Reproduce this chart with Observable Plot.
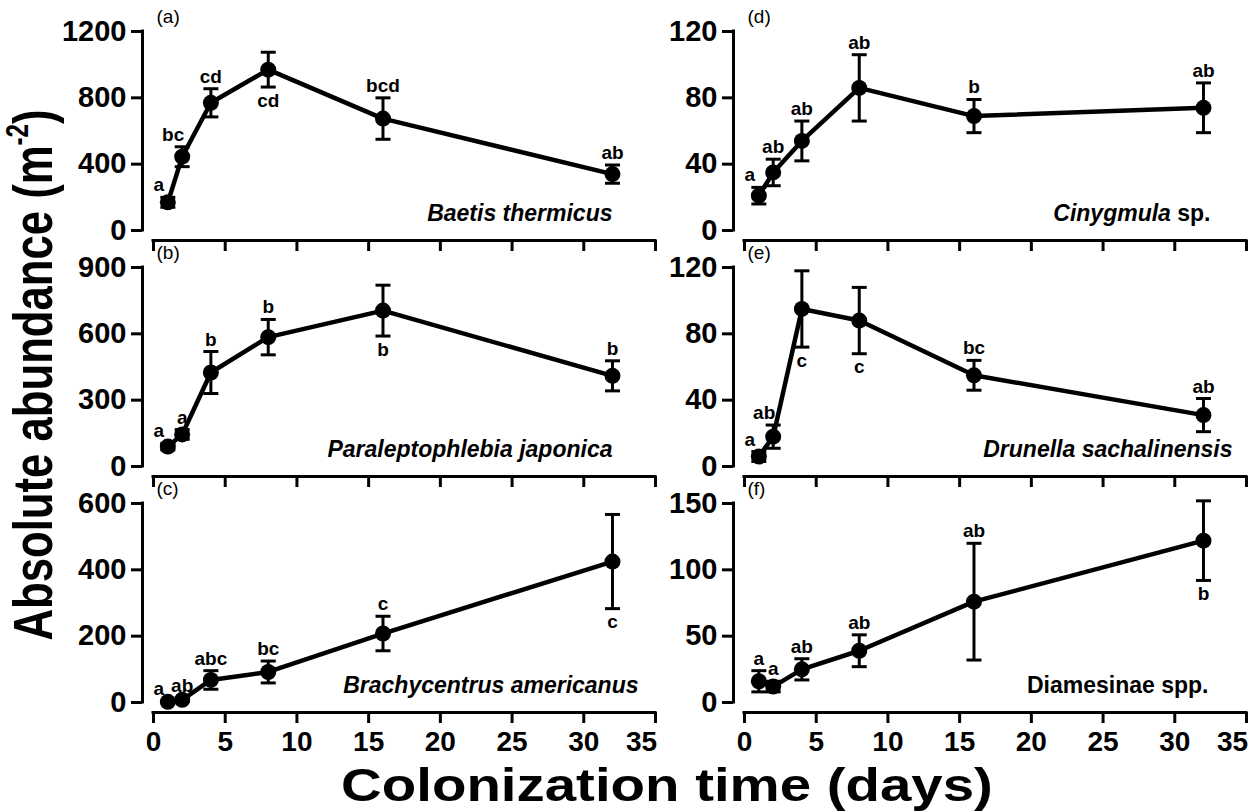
<!DOCTYPE html>
<html>
<head>
<meta charset="utf-8">
<script src="https://cdn.jsdelivr.net/npm/d3@7"></script>
<script src="https://cdn.jsdelivr.net/npm/@observablehq/plot@0.6"></script>
<style>
html, body { margin: 0; padding: 0; background: #fff; overflow: hidden; }
#chart { position: relative; width: 1255px; height: 811px; font-family: "Liberation Sans", Arial, sans-serif; color: #000; }
.panel { position: absolute; }
.title { position: absolute; font-weight: bold; white-space: nowrap; line-height: 1; }
</style>
</head>
<body>
<div id="chart"></div>
<script>
// ---- data ----
const days = [1, 2, 4, 8, 16, 32];
const xTicks = [0, 5, 10, 15, 20, 25, 30, 35];

const baetisMean = [170, 445, 770, 970, 675, 340];
const baetisErr  = [30, 60, 85, 105, 125, 55];
const baetisSig  = ["a", "bc", "cd", "cd", "bcd", "ab"];
const baetisTicks = [0, 400, 800, 1200];

const paraMean = [90, 145, 425, 585, 705, 410];
const paraErr  = [15, 22, 95, 80, 115, 68];
const paraSig  = ["a", "a", "b", "b", "b", "b"];
const paraTicks = [0, 300, 600, 900];

const brachyMean = [2, 8, 68, 92, 208, 425];
const brachyErr  = [2, 5, 28, 33, 52, 142];
const brachySig  = ["a", "ab", "abc", "bc", "c", "c"];
const brachyTicks = [0, 200, 400, 600];

const cinyMean = [21, 35, 54, 86, 69, 74];
const cinyErr  = [5, 8, 12, 20, 10, 15];
const cinySig  = ["a", "ab", "ab", "ab", "b", "ab"];
const cinyTicks = [0, 40, 80, 120];

const druMean = [6, 18, 95, 88, 55, 31];
const druErr  = [3, 7, 23, 20, 9, 10];
const druSig  = ["a", "ab", "c", "c", "bc", "ab"];
const druTicks = [0, 40, 80, 120];

const diaMean = [16, 12, 25, 39, 76, 122];
const diaErr  = [8, 4, 8, 12, 44, 30];
const diaSig  = ["a", "a", "ab", "ab", "ab", "b"];
const diaTicks = [0, 50, 100, 150];

const xTitle = "Colonization time (days)";
const yTitleMain = "Absolute abundance (m";
const yTitleSup = "-2";
const yTitleEnd = ")";

// ---- layout (placement of letters: a = above, b = below, l = above-left) ----
const panels = [
  {tag: "(a)", name: "Baetis thermicus", mean: baetisMean, err: baetisErr, sig: baetisSig, pos: ["l","l","a","b","a","a"], ticks: baetisTicks, col: 0, row: 0, nameDx: -52, style: "italic"},
  {tag: "(b)", name: "Paraleptophlebia japonica", mean: paraMean, err: paraErr, sig: paraSig, pos: ["l","a","a","a","b","a"], ticks: paraTicks, col: 0, row: 1, nameDx: -52, style: "italic"},
  {tag: "(c)", name: "Brachycentrus americanus", mean: brachyMean, err: brachyErr, sig: brachySig, pos: ["l","a","a","a","a","b"], ticks: brachyTicks, col: 0, row: 2, nameDx: -26, style: "italic"},
  {tag: "(d)", name: "Cinygmula sp.", mean: cinyMean, err: cinyErr, sig: cinySig, pos: ["l","a","a","a","a","a"], ticks: cinyTicks, col: 1, row: 0, nameDx: -45, style: "mixed"},
  {tag: "(e)", name: "Drunella sachalinensis", mean: druMean, err: druErr, sig: druSig, pos: ["l","l","b","b","a","a"], ticks: druTicks, col: 1, row: 1, nameDx: -23, style: "italic"},
  {tag: "(f)", name: "Diamesinae spp.", mean: diaMean, err: diaErr, sig: diaSig, pos: ["a","a","a","a","a","b"], ticks: diaTicks, col: 1, row: 2, nameDx: -47, style: "normal"}
];

const FONT = '"Liberation Sans", Arial, Helvetica, sans-serif';
const cap = {draw(ctx, size) { const r = Math.sqrt(size / Math.PI); ctx.moveTo(-r, 0); ctx.lineTo(r, 0); }};

const chart = document.getElementById("chart");

function makePanel(p) {
  const data = days.map((d, i) => ({x: d, y: p.mean[i], lo: Math.max(0, p.mean[i] - p.err[i]), hi: p.mean[i] + p.err[i], sig: p.sig[i], pos: p.pos[i]}));
  const ymax = p.ticks[p.ticks.length - 1];
  const bottom = p.row === 2;
  const H = bottom ? 300 : 250;
  const letter = {fontSize: 19, fontWeight: "bold", text: "sig"};
  const xAxisStyle = {tickSize: 11, tickPadding: 8, strokeWidth: 3, fontSize: 28, fontWeight: "bold", label: null};
  const lastTick = xTicks.slice(-1);
  const svg = Plot.plot({
    width: 664, height: H,
    marginLeft: 142, marginRight: 0, marginTop: 31, marginBottom: H - 240,
    x: {domain: [0, 35], range: [153, 655]},
    y: {domain: [0, ymax], range: [230, 31]},
    style: {background: "none", overflow: "visible", fontFamily: FONT, color: "black"},
    marks: [
      Plot.ruleX([0], {y1: 0, y2: ymax, dx: -11, strokeWidth: 3, strokeLinecap: "square"}),
      Plot.ruleY([0], {x1: 0, x2: 35, dy: 10, strokeWidth: 3, strokeLinecap: "square"}),
      Plot.axisY({ticks: p.ticks, tickSize: 11, tickPadding: 5, strokeWidth: 3, fontSize: 29, fontWeight: "bold", label: null, tickFormat: d => String(d)}),
      Plot.axisX({...xAxisStyle, ticks: xTicks.slice(0, -1), tickFormat: bottom ? (d => String(d)) : (() => "")}),
      Plot.axisX({...xAxisStyle, ticks: lastTick, tickSize: 11, tickFormat: () => ""}),
      bottom ? Plot.axisX({...xAxisStyle, ticks: lastTick, tickSize: 0, tickPadding: 19, dx: -14, tickFormat: d => String(d)}) : null,
      Plot.ruleX(data, {x: "x", y1: "lo", y2: "hi", strokeWidth: 3}),
      Plot.dot(data, {x: "x", y: "hi", symbol: cap, r: 7.5, stroke: "black", fill: "none", strokeWidth: 3}),
      Plot.dot(data, {x: "x", y: "lo", symbol: cap, r: 7.5, stroke: "black", fill: "none", strokeWidth: 3}),
      Plot.line(data, {x: "x", y: "y", strokeWidth: 4.5, stroke: "black"}),
      Plot.dot(data, {x: "x", y: "y", r: 8, fill: "black", stroke: "none"}),
      Plot.text(data.filter(d => d.pos === "a"), {...letter, x: "x", y: "hi", dy: -6, lineAnchor: "bottom"}),
      Plot.text(data.filter(d => d.pos === "l"), {...letter, x: "x", y: "hi", dx: -9, dy: -6, lineAnchor: "bottom"}),
      Plot.text(data.filter(d => d.pos === "b"), {...letter, x: "x", y: "lo", dy: 6, lineAnchor: "top"}),
      Plot.text([p.tag], {frameAnchor: "top-left", dx: 14, dy: -22, lineAnchor: "top", textAnchor: "start", fontSize: 19}),
      Plot.text([p.name], {frameAnchor: "bottom-right", dx: p.nameDx, dy: -20, lineAnchor: "bottom", textAnchor: "end", fontSize: 23, fontWeight: "bold", fontStyle: p.style === "italic" ? "italic" : "normal"})
    ]
  });
  if (p.style === "mixed") {
    svg.querySelectorAll("text").forEach(t => {
      if (t.textContent === p.name) {
        const parts = p.name.split(" ");
        t.textContent = "";
        const a = document.createElementNS("http://www.w3.org/2000/svg", "tspan");
        a.setAttribute("font-style", "italic"); a.textContent = parts[0];
        const b = document.createElementNS("http://www.w3.org/2000/svg", "tspan");
        b.textContent = " " + parts.slice(1).join(" ");
        t.appendChild(a); t.appendChild(b);
      }
    });
  }
  const div = document.createElement("div");
  div.className = "panel";
  div.style.left = (p.col * 591) + "px";
  div.style.top = (p.row * 236) + "px";
  div.appendChild(svg);
  chart.appendChild(div);
}

panels.forEach(makePanel);

// axis titles
const xt = document.createElement("div");
xt.className = "title";
xt.textContent = xTitle;
xt.style.cssText += "left:667px;top:784px;font-size:47px;transform:translate(-50%,-50%) scaleX(1.2);";
chart.appendChild(xt);

const yt = document.createElement("div");
yt.className = "title";
yt.appendChild(document.createTextNode(yTitleMain));
const sup = document.createElement("span");
sup.textContent = yTitleSup;
sup.style.cssText = "font-size:0.55em;vertical-align:0.75em";
yt.appendChild(sup);
yt.appendChild(document.createTextNode(yTitleEnd));
yt.style.cssText += "left:32px;top:375px;font-size:56px;transform:translate(-50%,-50%) rotate(-90deg) scaleX(0.78);";
chart.appendChild(yt);
</script>
</body>
</html>
